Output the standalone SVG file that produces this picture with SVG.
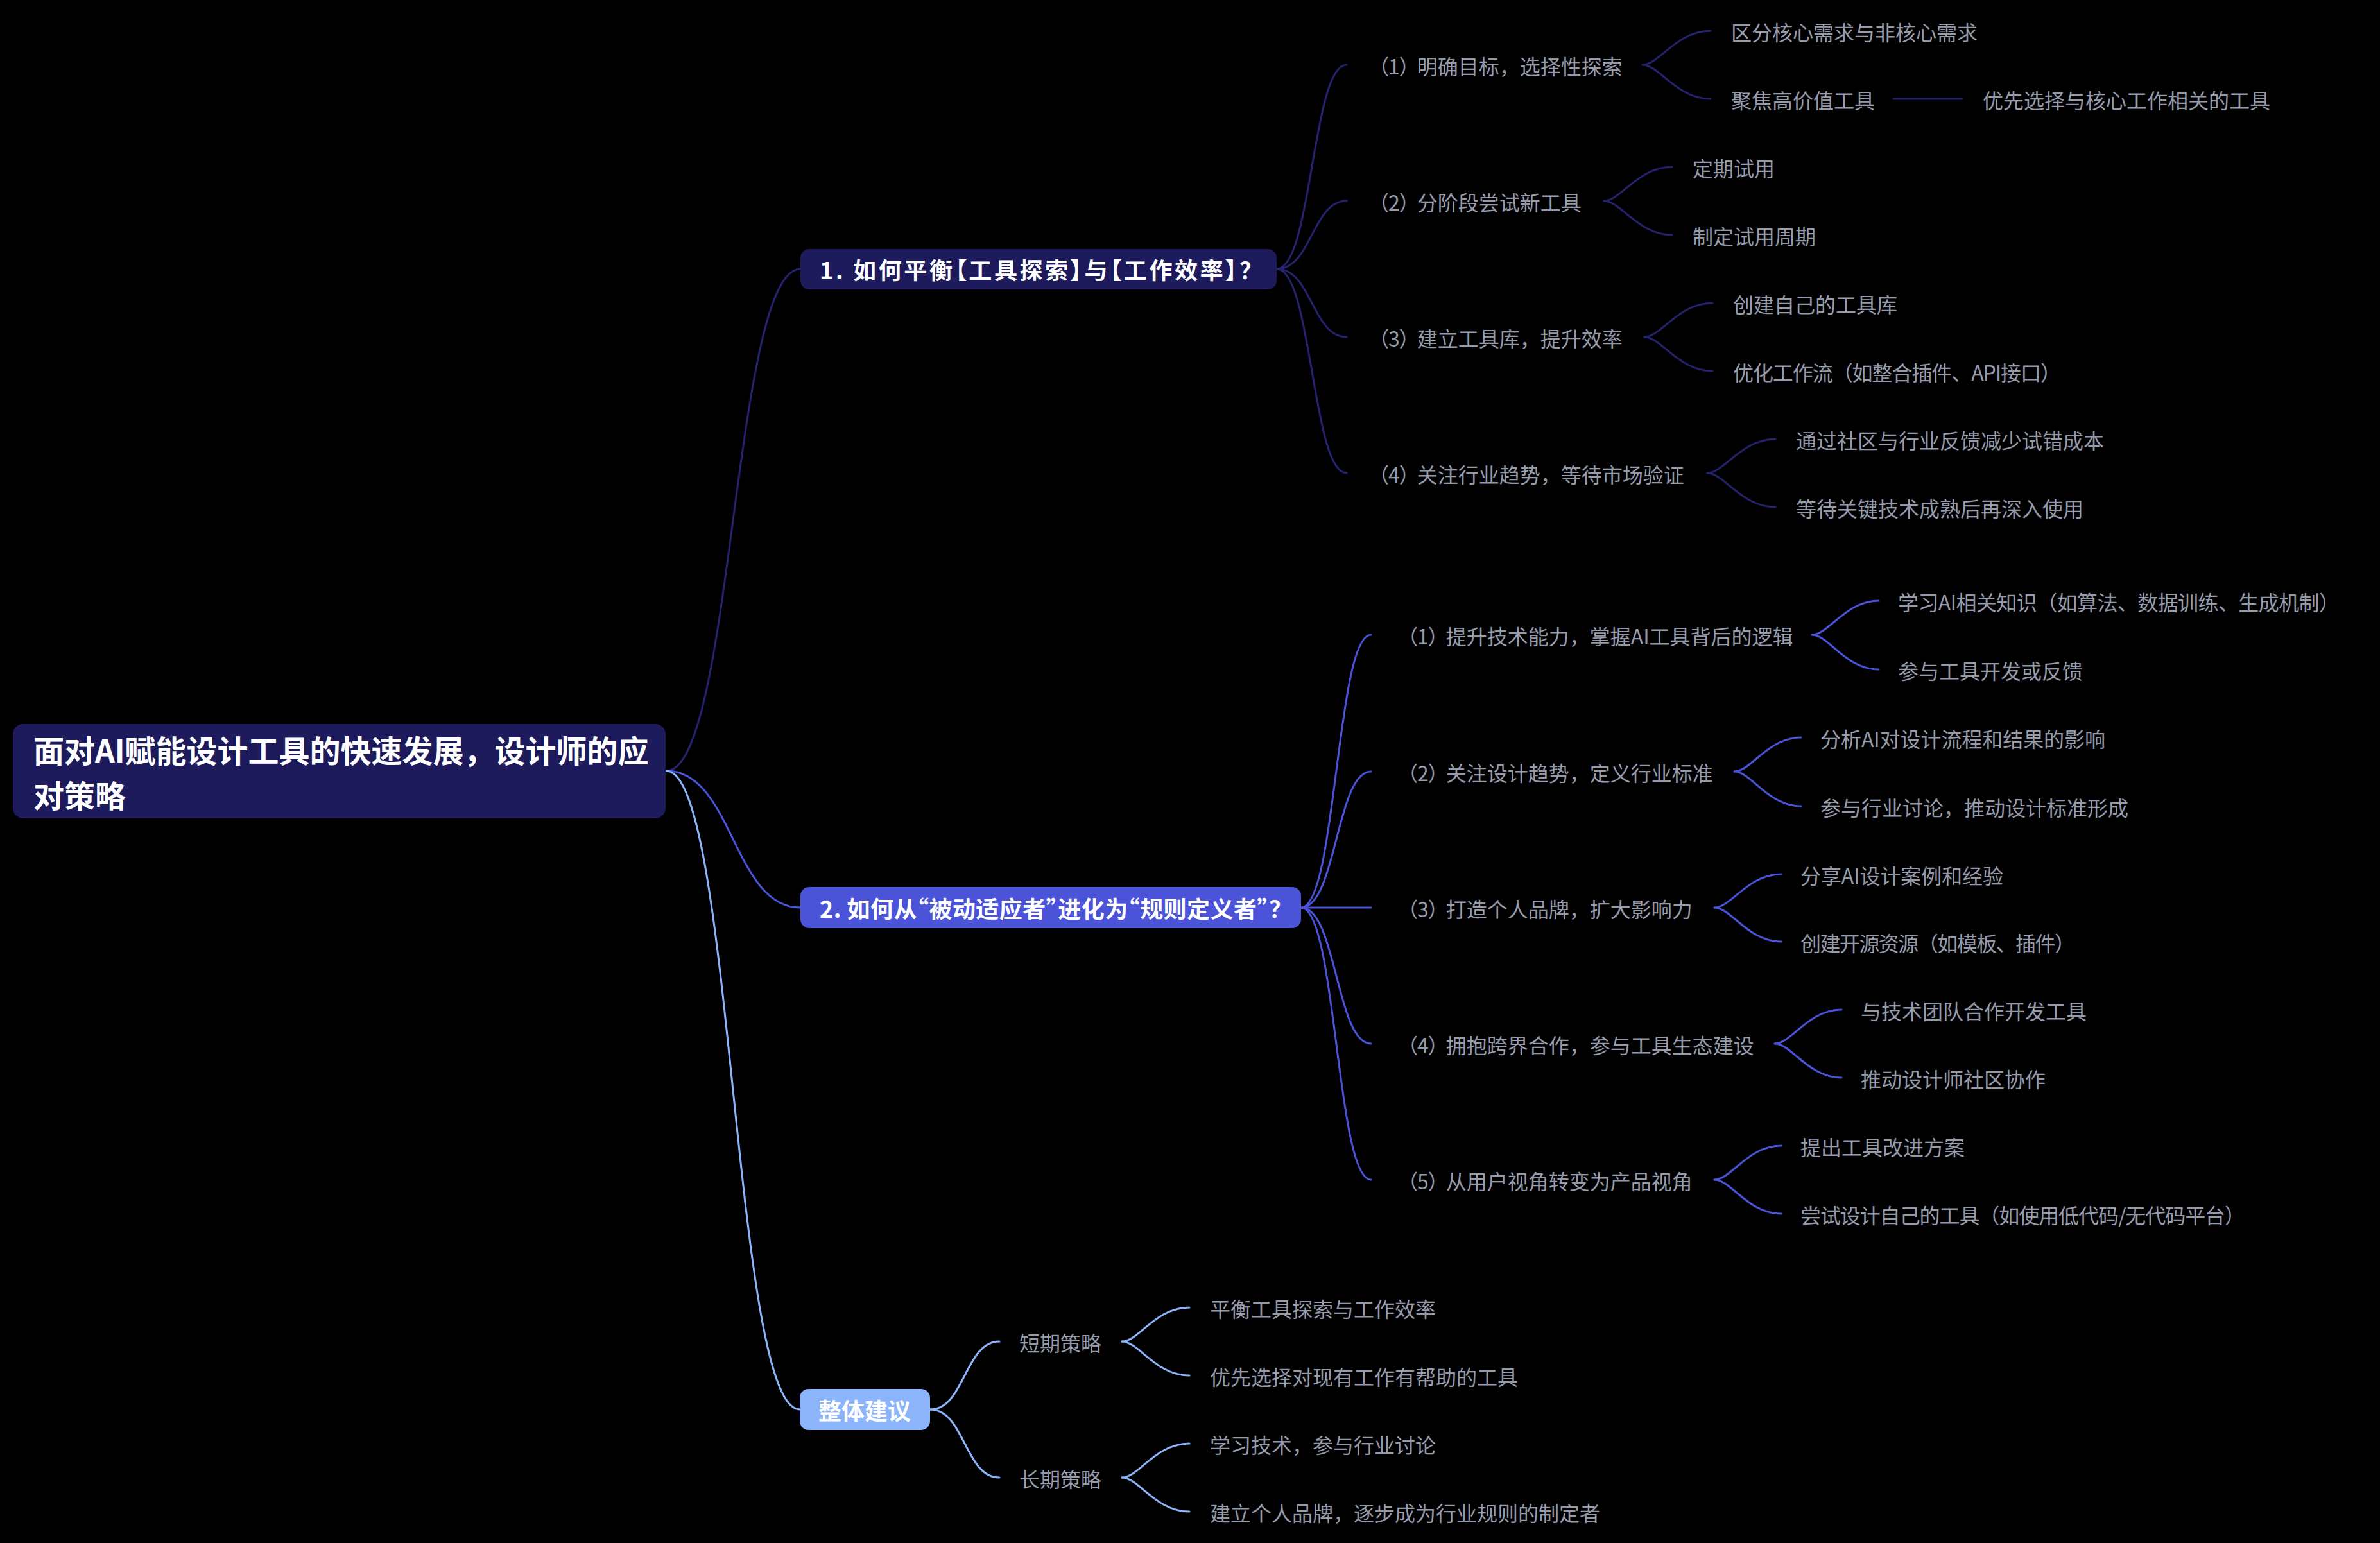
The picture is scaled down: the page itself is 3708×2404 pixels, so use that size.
<svg xmlns="http://www.w3.org/2000/svg" width="3708" height="2404" viewBox="0 0 3708 2404">
<style>
text { font-family: "Noto Sans CJK SC", "Noto Sans", "Liberation Sans", sans-serif; dominant-baseline: central; }
.leaf { font-size: 32px; fill: #969bac; }
.p { font-feature-settings: "palt"; }
.main { font-size: 36px; font-weight: 700; fill: #ffffff; font-feature-settings: "palt"; }
.roott { font-size: 48px; font-weight: 700; fill: #ffffff; }
path, line { fill: none; stroke-width: 3; stroke-linecap: round; }
.k1 { stroke: #25236e; }
.k2 { stroke: #4b53d8; }
.k3 { stroke: #8cb4fa; }
</style>
<rect x="0" y="0" width="3708" height="2404" fill="#000000"/>
<g id="connectors">
  <path class="k1" d="M1038,1201 C1142,1201 1142,419 1247,419"/>
  <path class="k2" d="M1038,1201 C1142,1201 1142,1414 1247,1414"/>
  <path class="k3" d="M1038,1201 C1142,1201 1142,2196 1246,2196"/>
  <path class="k1" d="M1989,419 C2044,419 2044,101 2098,101"/>
  <path class="k1" d="M1989,419 C2044,419 2044,313 2098,313"/>
  <path class="k1" d="M1989,419 C2044,419 2044,525 2098,525"/>
  <path class="k1" d="M1989,419 C2044,419 2044,737 2098,737"/>
  <path class="k1" d="M2559,101 C2585,101 2612,48 2665,48"/>
  <path class="k1" d="M2559,101 C2585,101 2612,154 2665,154"/>
  <line class="k1" x1="2950" y1="154" x2="3057" y2="154"/>
  <path class="k1" d="M2499,313 C2525,313 2552,260 2605,260"/>
  <path class="k1" d="M2499,313 C2525,313 2552,366 2605,366"/>
  <path class="k1" d="M2562,525 C2588,525 2615,472 2668,472"/>
  <path class="k1" d="M2562,525 C2588,525 2615,578 2668,578"/>
  <path class="k1" d="M2660,737 C2686,737 2713,684 2766,684"/>
  <path class="k1" d="M2660,737 C2686,737 2713,790 2766,790"/>
  <path class="k2" d="M2027,1414 C2082,1414 2082,989 2136,989"/>
  <path class="k2" d="M2027,1414 C2082,1414 2082,1202 2136,1202"/>
  <path class="k2" d="M2027,1414 L2136,1414"/>
  <path class="k2" d="M2027,1414 C2082,1414 2082,1626 2136,1626"/>
  <path class="k2" d="M2027,1414 C2082,1414 2082,1838 2136,1838"/>
  <path class="k2" d="M2823,989 C2849,989 2875,936 2927,936"/>
  <path class="k2" d="M2823,989 C2849,989 2875,1043 2927,1043"/>
  <path class="k2" d="M2702,1202 C2728,1202 2754,1149 2806,1149"/>
  <path class="k2" d="M2702,1202 C2728,1202 2754,1256 2806,1256"/>
  <path class="k2" d="M2671,1414 C2697,1414 2723,1362 2775,1362"/>
  <path class="k2" d="M2671,1414 C2697,1414 2723,1467 2775,1467"/>
  <path class="k2" d="M2765,1626 C2791,1626 2817,1573 2869,1573"/>
  <path class="k2" d="M2765,1626 C2791,1626 2817,1679 2869,1679"/>
  <path class="k2" d="M2671,1838 C2697,1838 2723,1785 2775,1785"/>
  <path class="k2" d="M2671,1838 C2697,1838 2723,1891 2775,1891"/>
  <path class="k3" d="M1449,2196 C1503,2196 1503,2090 1557,2090"/>
  <path class="k3" d="M1449,2196 C1503,2196 1503,2302 1557,2302"/>
  <path class="k3" d="M1748,2090 C1774,2090 1800,2037 1853,2037"/>
  <path class="k3" d="M1748,2090 C1774,2090 1800,2143 1853,2143"/>
  <path class="k3" d="M1748,2302 C1774,2302 1800,2249 1853,2249"/>
  <path class="k3" d="M1748,2302 C1774,2302 1800,2355 1853,2355"/>
</g>
<g id="root">
  <rect x="20" y="1128" width="1017" height="147" rx="16" fill="#1d1b5c"/>
  <text class="roott" x="52" y="1167">面对AI赋能设计工具的快速发展，设计师的应</text>
  <text class="roott" x="52" y="1237">对策略</text>
</g>
<g id="n1">
  <rect x="1247" y="388" width="742" height="63" rx="14" fill="#1d1b5c"/>
  <text class="main" x="1277" y="419" textLength="672" lengthAdjust="spacing">1. 如何平衡【工具探索】与【工作效率】？</text>
</g>
<g id="n2">
  <rect x="1247" y="1382" width="780" height="64" rx="14" fill="#4b53d8"/>
  <text class="main" x="1277" y="1414" textLength="718" lengthAdjust="spacing">2. 如何从“被动适应者”进化为“规则定义者”？</text>
</g>
<g id="n3">
  <rect x="1246" y="2164" width="203" height="64" rx="14" fill="#8cb4fa"/>
  <text class="main" x="1275" y="2196">整体建议</text>
</g>
<g id="n1-1"><text class="leaf" x="2147" y="102"><tspan class="p">（1）</tspan><tspan dx="11">明确目标，选择性探索</tspan></text></g>
<g id="n1-1-1"><text class="leaf" x="2697" y="49">区分核心需求与非核心需求</text></g>
<g id="n1-1-2"><text class="leaf" x="2697" y="155">聚焦高价值工具</text></g>
<g id="n1-1-2-1"><text class="leaf" x="3089" y="155">优先选择与核心工作相关的工具</text></g>
<g id="n1-2"><text class="leaf" x="2147" y="314"><tspan class="p">（2）</tspan><tspan dx="11">分阶段尝试新工具</tspan></text></g>
<g id="n1-2-1"><text class="leaf" x="2637" y="261">定期试用</text></g>
<g id="n1-2-2"><text class="leaf" x="2637" y="367">制定试用周期</text></g>
<g id="n1-3"><text class="leaf" x="2147" y="526"><tspan class="p">（3）</tspan><tspan dx="11">建立工具库，提升效率</tspan></text></g>
<g id="n1-3-1"><text class="leaf" x="2700" y="473">创建自己的工具库</text></g>
<g id="n1-3-2"><text class="leaf" x="2700" y="579" textLength="511" lengthAdjust="spacing">优化工作流（如整合插件、API接口）</text></g>
<g id="n1-4"><text class="leaf" x="2147" y="738"><tspan class="p">（4）</tspan><tspan dx="11">关注行业趋势，等待市场验证</tspan></text></g>
<g id="n1-4-1"><text class="leaf" x="2798" y="685">通过社区与行业反馈减少试错成本</text></g>
<g id="n1-4-2"><text class="leaf" x="2798" y="791">等待关键技术成熟后再深入使用</text></g>
<g id="n2-1"><text class="leaf" x="2192" y="990"><tspan class="p">（1）</tspan><tspan dx="11">提升技术能力，掌握AI工具背后的逻辑</tspan></text></g>
<g id="n2-1-1"><text class="leaf" x="2957" y="937" textLength="688" lengthAdjust="spacing">学习AI相关知识（如算法、数据训练、生成机制）</text></g>
<g id="n2-1-2"><text class="leaf" x="2957" y="1044">参与工具开发或反馈</text></g>
<g id="n2-2"><text class="leaf" x="2192" y="1203"><tspan class="p">（2）</tspan><tspan dx="11">关注设计趋势，定义行业标准</tspan></text></g>
<g id="n2-2-1"><text class="leaf" x="2836" y="1150" textLength="444" lengthAdjust="spacing">分析AI对设计流程和结果的影响</text></g>
<g id="n2-2-2"><text class="leaf" x="2836" y="1257">参与行业讨论，推动设计标准形成</text></g>
<g id="n2-3"><text class="leaf" x="2192" y="1415"><tspan class="p">（3）</tspan><tspan dx="11">打造个人品牌，扩大影响力</tspan></text></g>
<g id="n2-3-1"><text class="leaf" x="2805" y="1363" textLength="316" lengthAdjust="spacing">分享AI设计案例和经验</text></g>
<g id="n2-3-2"><text class="leaf" x="2805" y="1468" textLength="428" lengthAdjust="spacing">创建开源资源（如模板、插件）</text></g>
<g id="n2-4"><text class="leaf" x="2192" y="1627"><tspan class="p">（4）</tspan><tspan dx="11">拥抱跨界合作，参与工具生态建设</tspan></text></g>
<g id="n2-4-1"><text class="leaf" x="2899" y="1574">与技术团队合作开发工具</text></g>
<g id="n2-4-2"><text class="leaf" x="2899" y="1680">推动设计师社区协作</text></g>
<g id="n2-5"><text class="leaf" x="2192" y="1839"><tspan class="p">（5）</tspan><tspan dx="11">从用户视角转变为产品视角</tspan></text></g>
<g id="n2-5-1"><text class="leaf" x="2805" y="1786">提出工具改进方案</text></g>
<g id="n2-5-2"><text class="leaf" x="2805" y="1892" textLength="693" lengthAdjust="spacing">尝试设计自己的工具（如使用低代码/无代码平台）</text></g>
<g id="n3-1"><text class="leaf" x="1588" y="2091">短期策略</text></g>
<g id="n3-1-1"><text class="leaf" x="1885" y="2038">平衡工具探索与工作效率</text></g>
<g id="n3-1-2"><text class="leaf" x="1885" y="2144">优先选择对现有工作有帮助的工具</text></g>
<g id="n3-2"><text class="leaf" x="1588" y="2303">长期策略</text></g>
<g id="n3-2-1"><text class="leaf" x="1885" y="2250">学习技术，参与行业讨论</text></g>
<g id="n3-2-2"><text class="leaf" x="1885" y="2356">建立个人品牌，逐步成为行业规则的制定者</text></g>
</svg>
